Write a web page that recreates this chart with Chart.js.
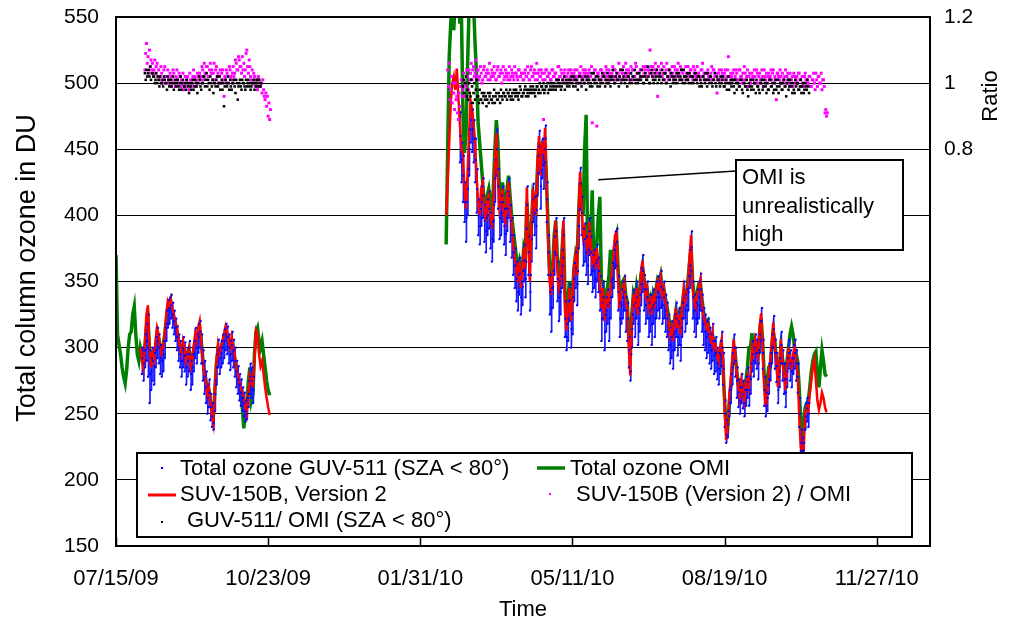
<!DOCTYPE html>
<html>
<head>
<meta charset="utf-8">
<script src="https://cdn.jsdelivr.net/npm/chart.js@4.4.1/dist/chart.umd.min.js"></script>
<style>
  body { margin: 0; background: #fff; }
</style>
</head>
<body>
<canvas id="ozoneChart" width="1011" height="623"></canvas>
<script>
// x values are days since 07/15/09
const xTickDays = [0, 100, 200, 300, 400, 500];
const xTickLabels = ["07/15/09", "10/23/09", "01/31/10", "05/11/10", "08/19/10", "11/27/10"];
const ratioTicks = [80, 100, 120]; // ratio x 100

// OMI total ozone (DU), one value per day
const omiStart1 = 0;
const omiOzone1 = [
  370, 310, 302, 295, 285, 278, 273, 283, 300, 310,
  312, 325, 331, 310, 295, 290, 300, 295, 290, 300,
  315, 320, 300, 292, 295, 292, 300, 312, 308, 300,
  298, 302, 310, 320, 330, 332, 330, 326, 322, 318,
  312, 305, 300, 298, 302, 300, 292, 295, 298, 290,
  292, 298, 305, 305, 312, 315, 305, 292, 282, 276,
  268, 268, 260, 252, 248, 268, 288, 298, 296, 300,
  304, 308, 312, 310, 305, 302, 305, 300, 292, 285,
  278, 272, 265, 255, 239, 250, 258, 275, 285, 260,
  265, 295, 312, 315, 305, 300, 305, 295, 285, 275,
  268, 264
];
const omiStart2 = 217;
const omiOzone2 = [
  378, 450, 520, 545, 560, 540, 565, 550, 570, 545,
  555, 480, 447, 460, 510, 555, 570, 580, 560, 530,
  505, 470, 455, 440, 425, 410, 405, 415, 420, 410,
  405, 420, 450, 472, 455, 420, 415, 425, 410, 405,
  420, 430, 415, 400, 390, 380, 370, 360, 365, 355,
  360, 375, 370, 410, 390, 365, 390, 415, 410, 405,
  435, 455, 440, 450, 445, 455, 425, 390, 360, 350,
  360, 385, 396, 370, 355, 355, 370, 390, 345, 325,
  335, 350, 330, 340, 360, 370, 365, 400, 425, 415,
  400, 450, 476, 370, 390, 385, 419, 365, 370, 380,
  400, 414, 351, 350, 335, 340, 345, 355, 374, 345,
  370, 380, 385, 360, 340, 345, 350, 352, 340, 335,
  310, 300, 325, 340, 335, 345, 335, 340, 355, 362,
  352, 345, 345, 335, 338, 330, 340, 335, 345, 352,
  350, 355, 345, 345, 338, 332, 325, 318, 315, 312,
  320, 328, 320, 325, 318, 330, 340, 338, 342, 352,
  365, 375, 350, 338, 335, 342, 348, 350, 338, 328,
  322, 318, 320, 312, 308, 310, 305, 300, 296, 292,
  298, 300, 285, 260, 240, 238, 255, 270, 285, 300,
  295, 282, 272, 265, 272, 268, 262, 275, 285, 300,
  300, 311, 298, 302, 300, 295, 312, 322, 305, 280,
  268, 275, 285, 285, 300, 312, 305, 290, 280, 285,
  300, 292, 285, 280, 290, 300, 310, 316, 310, 300,
  295, 290, 270, 245, 235, 245, 255, 258, 260, 270,
  282, 290, 295, 297, 280, 270, 285, 298, 290, 280, 278
];

// SUV-150B Version 2 total ozone (DU), one value per day
const suvStart1 = 16;
const suvOzone1 = [
  300, 290, 285, 305, 325, 332, 300, 285, 295, 290,
  305, 315, 310, 300, 295, 300, 310, 325, 335, 332,
  337, 330, 325, 320, 315, 308, 300, 295, 305, 300,
  290, 295, 300, 285, 290, 300, 310, 305, 315, 320,
  305, 290, 280, 275, 265, 270, 258, 250, 243, 270,
  290, 302, 295, 300, 305, 310, 316, 312, 305, 300,
  308, 302, 295, 285, 280, 275, 270, 266, 262, 255,
  250, 265, 280, 278, 270, 290, 313, 310, 295, 286,
  290, 280, 270, 262, 255, 249
];
const suvStart2 = 217;
const suvOzone2 = [
  400, 425, 455, 485, 500, 505, 495, 511, 490, 470,
  450, 447, 420, 405, 430, 460, 487, 480, 470, 455,
  430, 410, 400, 420, 425, 405, 395, 410, 415, 400,
  390, 405, 440, 462, 430, 405, 410, 420, 400, 395,
  415, 425, 405, 395, 380, 370, 360, 350, 365, 345,
  355, 375, 360, 421, 380, 350, 390, 420, 410, 400,
  440, 460, 430, 455, 445, 466, 420, 380, 350, 340,
  355, 380, 396, 360, 345, 350, 370, 396, 330, 313,
  330, 345, 320, 335, 360, 369, 355, 400, 433, 410,
  385, 390, 380, 370, 395, 380, 365, 370, 360, 375,
  365, 350, 330, 345, 320, 335, 340, 330, 345, 360,
  370, 385, 387, 350, 330, 340, 345, 350, 335, 330,
  300, 279, 320, 340, 330, 345, 325, 335, 355, 366,
  350, 340, 345, 330, 335, 325, 340, 330, 345, 350,
  345, 353, 340, 345, 335, 330, 320, 310, 315, 305,
  320, 330, 315, 325, 310, 330, 344, 335, 340, 350,
  370, 385, 345, 335, 330, 340, 345, 351, 335, 325,
  320, 315, 318, 310, 305, 312, 300, 302, 295, 290,
  300, 306, 290, 253, 230, 240, 263, 275, 291, 306,
  295, 280, 270, 262, 275, 268, 260, 272, 278, 270,
  280, 300, 295, 306, 300, 293, 315, 326, 300, 270,
  255, 265, 280, 290, 305, 319, 300, 290, 270, 285,
  306, 290, 280, 268, 285, 300, 290, 285, 295, 300,
  290, 281, 250, 225, 219, 225, 250, 255, 252, 265,
  275, 285, 291, 275, 260, 253, 258, 266, 262, 255, 251
];

// GUV-511 total ozone (DU), three readings per day
const guvStart1 = 17;
const guvOzone1 = [
  280, 292, 300,  275, 288, 298,  285, 298, 310,  290, 305, 318,  278, 300, 325,
  258, 280, 298,  268, 282, 292,  275, 290, 300,  272, 286, 296,  285, 298, 308,
  292, 305, 315,  288, 300, 310,  280, 292, 302,  278, 290, 298,  282, 295, 305,
  292, 305, 315,  305, 318, 328,  315, 328, 336,  318, 330, 338,  322, 332, 340,
  315, 325, 334,  310, 320, 328,  305, 315, 322,  298, 308, 316,  290, 300, 310,
  285, 295, 305,  278, 290, 300,  285, 298, 308,  282, 294, 304,  272, 285, 295,
  278, 290, 300,  282, 295, 305,  268, 280, 290,  272, 285, 295,  282, 295, 305,
  292, 305, 315,  288, 300, 310,  296, 308, 318,  300, 312, 320,  288, 300, 310,
  275, 288, 298,  265, 278, 290,  258, 270, 282,  250, 262, 272,  255, 266, 276,
  245, 255, 265,  240, 248, 258,  238, 243, 252,  252, 265, 275,  272, 285, 295,
  285, 298, 306,  280, 292, 300,  285, 296, 305,  288, 300, 310,  292, 305, 314,
  298, 310, 318,  295, 308, 316,  288, 300, 310,  283, 295, 305,  290, 302, 312,
  285, 298, 306,  278, 290, 300,  270, 282, 290,  265, 276, 286,  260, 272, 280,
  256, 266, 276,  252, 262, 270,  248, 258, 266,  244, 252, 260,  246, 250, 262,
  255, 265, 275,  265, 278, 288,  262, 275, 285,  258, 268, 278
];
const guvStart2 = 226;
const guvOzone2 = [
  440, 460, 478,  425, 442, 455,  410, 430, 445,  395, 410, 425,  380, 398, 410,
  400, 420, 435,  430, 450, 465,  455, 472, 485,  448, 465, 480,  440, 458, 472,
  425, 442, 458,  402, 420, 435,  385, 400, 412,  378, 392, 405,  392, 410, 422,
  398, 415, 428,  380, 396, 408,  372, 388, 398,  385, 400, 412,  390, 405, 418,
  375, 392, 402,  365, 382, 395,  380, 396, 408,  410, 428, 442,  430, 450, 465,
  405, 422, 435,  382, 398, 410,  385, 402, 415,  395, 410, 422,  378, 392, 405,
  370, 386, 398,  388, 405, 418,  398, 415, 428,  380, 396, 408,  368, 385, 398,
  355, 372, 385,  345, 362, 375,  335, 352, 365,  328, 342, 355,  340, 356, 368,
  325, 338, 350,  332, 346, 358,  350, 366, 378,  338, 352, 365,  390, 408, 422,
  355, 372, 384,  328, 342, 355,  365, 382, 395,  395, 412, 424,  385, 402, 414,
  375, 392, 404,  415, 432, 445,  432, 452, 464,  405, 422, 434,  428, 446, 458,
  420, 438, 450,  440, 458, 468,  395, 412, 425,  355, 372, 385,  325, 342, 355,
  312, 330, 345,  330, 346, 358,  355, 372, 384,  370, 388, 398,  335, 352, 365,
  320, 338, 350,  325, 342, 354,  345, 362, 374,  368, 385, 398,  308, 322, 335,
  298, 308, 318,  305, 322, 335,  320, 336, 348,  300, 314, 325,  310, 326, 338,
  335, 352, 364,  345, 360, 372,  332, 348, 358,  375, 392, 404,  405, 424, 436,
  385, 402, 414,  362, 378, 390,  365, 382, 394,  355, 372, 384,  348, 362, 374,
  370, 388, 398,  355, 372, 384,  342, 358, 370,  345, 362, 374,  338, 352, 364,
  350, 366, 378,  342, 358, 368,  328, 342, 354,  305, 322, 334,  322, 338, 350,
  298, 312, 325,  312, 328, 338,  318, 332, 344,  305, 322, 334,  322, 338, 350,
  338, 352, 364,  345, 362, 374,  360, 378, 388,  362, 380, 390,  328, 342, 354,
  308, 322, 334,  318, 332, 344,  322, 338, 350,  328, 342, 354,  312, 328, 338,
  305, 322, 334,  285, 298, 308,  275, 282, 295,  300, 314, 325,  318, 332, 344,
  308, 322, 334,  322, 338, 350,  302, 318, 330,  312, 328, 340,  332, 348, 360,
  342, 358, 370,  328, 344, 355,  318, 332, 344,  322, 338, 350,  308, 322, 334,
  312, 328, 340,  302, 318, 330,  318, 332, 344,  308, 322, 334,  322, 338, 350,
  328, 342, 354,  322, 338, 350,  330, 346, 358,  318, 332, 344,  322, 338, 350,
  312, 328, 340,  308, 322, 334,  298, 312, 325,  288, 302, 315,  292, 308, 320,
  284, 298, 310,  298, 312, 325,  308, 322, 334,  294, 308, 320,  302, 318, 330,
  290, 302, 315,  308, 322, 334,  322, 338, 350,  312, 328, 340,  318, 332, 344,
  328, 342, 354,  345, 362, 374,  358, 376, 388,  322, 338, 350,  312, 328, 340,
  308, 322, 334,  318, 332, 344,  322, 338, 350,  328, 344, 356,  312, 328, 340,
  302, 318, 330,  298, 312, 325,  292, 308, 320,  296, 310, 322,  288, 302, 315,
  284, 298, 310,  290, 305, 318,  280, 294, 305,  282, 296, 308,  276, 288, 300,
  272, 284, 296,  280, 294, 305,  286, 300, 312,  272, 284, 296,  240, 250, 260,
  228, 234, 245,  232, 242, 252,  248, 258, 268,  258, 270, 280,  272, 285, 296,
  288, 300, 310,  278, 290, 300,  262, 275, 285,  255, 266, 276,  250, 260, 270,
  258, 270, 280,  254, 265, 275,  248, 258, 268,  256, 268, 278,  262, 274, 285,
  256, 268, 278,  265, 276, 288,  282, 295, 305,  278, 290, 300,  288, 300, 310,
  284, 296, 306,  276, 288, 298,  296, 310, 320,  305, 320, 330,  284, 296, 306,
  256, 268, 278,  248, 256, 266,  252, 262, 272,  265, 276, 288,  275, 286, 296,
  288, 300, 310,  300, 314, 324,  284, 296, 306,  274, 286, 296,  258, 268, 278,
  270, 282, 292,  288, 302, 312,  275, 288, 298,  265, 276, 288,  255, 266, 276,
  270, 282, 292,  284, 296, 306,  275, 288, 298,  270, 282, 292,  280, 292, 302,
  284, 296, 306,  275, 288, 298,  266, 278, 288,  240, 250, 262,  222, 228, 238,
  218, 222, 232,  222, 228, 238,  238, 248, 258,  244, 254, 262,  240, 250, 258
];

// GUV-511 / OMI ratio (x 100), two values per day
const guvOmiStart1 = 19;
const guvOmiRatio1 = [
  103, 101, 104, 102, 103, 104, 102, 105, 101, 103, 103, 102, 102, 100, 101, 103, 100, 102, 101, 99,
  102, 100, 100, 101, 99, 102, 101, 100, 100, 98, 102, 101, 99, 100, 101, 99, 100, 102, 98, 100,
  101, 99, 100, 101, 99, 98, 100, 102, 98, 100, 101, 99, 99, 100, 98, 101, 100, 99, 97, 100,
  99, 98, 100, 101, 98, 99, 101, 100, 99, 97, 100, 102, 101, 99, 98, 100, 100, 102, 102, 99,
  101, 103, 99, 101, 100, 98, 102, 100, 99, 101, 97, 100, 100, 99, 101, 102, 99, 100, 102, 98,
  100, 101, 98, 100, 93, 99, 101, 100, 99, 102, 100, 98, 101, 99, 98, 100, 100, 101, 99, 97,
  101, 100, 95, 99, 100, 101, 99, 98, 101, 100, 100, 99, 98, 101, 99, 100, 101, 99, 100, 98,
  99, 100, 100, 101, 98, 100, 99, 101, 100, 99, 101, 100, 99, 100
];
const guvOmiStart2 = 228;
const guvOmiRatio2 = [
  99, 101, 97, 100, 102, 96, 98, 95, 100, 97, 96, 101, 99, 94, 97, 100, 95, 98, 101, 96,
  96, 94, 98, 95, 95, 97, 94, 96, 97, 95, 96, 93, 95, 97, 94, 96, 97, 95, 95, 94,
  96, 98, 94, 96, 97, 95, 95, 97, 96, 94, 98, 96, 95, 97, 97, 96, 96, 98, 95, 97,
  97, 96, 98, 95, 96, 97, 95, 98, 97, 96, 98, 97, 96, 95, 97, 99, 98, 96, 96, 97,
  97, 98, 99, 96, 98, 97, 96, 98, 97, 99, 98, 97, 99, 98, 97, 96, 98, 99, 99, 97,
  98, 100, 97, 99, 99, 98, 100, 97, 98, 99, 99, 100, 97, 98, 100, 99, 98, 100, 99, 98,
  100, 99, 98, 101, 99, 100, 101, 99, 100, 98, 99, 101, 100, 102, 98, 100, 101, 99, 100, 101,
  99, 100, 101, 102, 100, 99, 102, 101, 99, 100, 101, 98, 100, 102, 102, 100, 99, 101, 101, 100,
  100, 102, 98, 101, 102, 100, 101, 99, 100, 103, 99, 101, 103, 100, 101, 102, 100, 99, 102, 101,
  99, 100, 101, 103, 100, 102, 102, 99, 101, 100, 103, 101, 100, 102, 99, 101, 102, 104, 101, 100,
  100, 102, 103, 101, 101, 99, 102, 104, 100, 101, 104, 102, 101, 100, 103, 101, 99, 102, 102, 100,
  101, 103, 100, 102, 102, 101, 104, 100, 101, 103, 100, 101, 103, 102, 101, 104, 102, 100, 100, 102,
  103, 101, 101, 105, 102, 100, 100, 103, 104, 102, 101, 100, 103, 101, 102, 104, 100, 102, 101, 103,
  102, 100, 104, 101, 101, 103, 103, 100, 100, 102, 102, 104, 101, 99, 103, 102, 100, 101, 102, 100,
  101, 103, 100, 102, 103, 101, 102, 104, 101, 100, 104, 102, 100, 101, 102, 103, 101, 100, 103, 102,
  100, 102, 102, 100, 101, 103, 103, 101, 100, 102, 102, 99, 101, 100, 99, 102, 102, 101, 100, 103,
  101, 99, 103, 101, 100, 102, 102, 100, 99, 101, 101, 103, 100, 99, 102, 101, 101, 100, 99, 102,
  100, 101, 102, 99, 99, 100, 101, 98, 100, 102, 98, 100, 101, 99, 100, 101, 99, 97, 101, 100,
  98, 100, 100, 99, 99, 101, 101, 98, 97, 100, 100, 99, 99, 101, 98, 96, 100, 99, 101, 98,
  99, 101, 98, 100, 100, 97, 101, 99, 99, 98, 97, 100, 100, 101, 98, 99, 101, 100, 99, 97,
  100, 98, 98, 101, 101, 99, 99, 100, 97, 98, 100, 101, 98, 99, 101, 97, 99, 100, 100, 98,
  98, 100, 101, 99, 99, 96, 100, 101, 98, 99, 101, 100, 99, 97, 100, 98, 97, 101, 99, 100,
  100, 98, 98, 99, 101, 97, 99, 100, 97, 98, 100, 99, 98, 101, 99, 97
];

// SUV-150B (Version 2) / OMI ratio (x 100), two values per day
const suvOmiStart1 = 19;
const suvOmiRatio1 = [
  104, 109, 112, 106, 108, 103, 110, 105, 107, 104, 106, 103, 104, 107, 103, 105, 106, 102, 104, 101,
  102, 105, 103, 100, 101, 104, 105, 102, 102, 100, 104, 101, 100, 103, 102, 99, 101, 104, 103, 100,
  99, 102, 104, 101, 100, 103, 102, 99, 101, 100, 103, 98, 100, 102, 99, 101, 102, 100, 98, 103,
  101, 99, 100, 102, 104, 101, 102, 99, 101, 103, 100, 102, 103, 101, 102, 105, 104, 101, 106, 103,
  103, 105, 105, 102, 102, 104, 106, 103, 104, 101, 103, 106, 101, 104, 105, 102, 103, 100, 102, 104,
  100, 103, 104, 101, 96, 102, 101, 104, 103, 100, 102, 105, 104, 102, 101, 103, 105, 102, 103, 107,
  106, 104, 104, 108, 107, 105, 105, 103, 108, 104, 106, 102, 104, 109, 110, 105, 103, 107, 105, 102,
  101, 104, 100, 103, 102, 99, 100, 101, 98, 102, 101, 99, 99, 100, 97, 101, 98, 96, 95, 97,
  93, 96, 90, 94, 89, 92
];
const suvOmiStart2 = 218;
const suvOmiRatio2 = [
  104, 99, 106, 95, 98, 102, 94, 100, 97, 92, 100, 95, 96, 91, 89, 97, 93, 99, 101, 96,
  98, 103, 96, 100, 99, 104, 102, 98, 104, 101, 103, 106, 101, 104, 105, 102, 103, 107, 102, 104,
  104, 101, 102, 105, 103, 100, 101, 104, 105, 102, 102, 103, 104, 101, 103, 106, 101, 102, 104, 103,
  102, 105, 103, 101, 101, 104, 105, 102, 102, 103, 104, 100, 103, 105, 101, 102, 104, 103, 102, 101,
  103, 105, 101, 102, 104, 103, 102, 101, 105, 103, 103, 102, 101, 104, 104, 102, 102, 103, 103, 101,
  101, 103, 104, 102, 102, 105, 103, 101, 101, 104, 105, 102, 102, 103, 104, 101, 103, 106, 101, 103,
  104, 102, 102, 104, 103, 101, 89, 103, 101, 104, 104, 102, 102, 103, 103, 101, 101, 104, 104, 102,
  102, 103, 103, 101, 101, 105, 105, 102, 102, 104, 103, 101, 101, 103, 104, 102, 102, 100, 103, 104,
  101, 102, 104, 103, 102, 101, 103, 104, 101, 102, 104, 100, 102, 103, 103, 105, 101, 102, 104, 103,
  102, 104, 103, 101, 101, 103, 104, 102, 102, 105, 88, 103, 101, 104, 104, 102, 87, 103, 103, 101,
  101, 104, 104, 102, 102, 103, 103, 101, 105, 104, 102, 100, 104, 103, 101, 102, 103, 105, 102, 104,
  104, 102, 101, 103, 103, 106, 102, 101, 104, 103, 101, 105, 103, 102, 106, 104, 102, 103, 104, 101,
  103, 105, 101, 104, 104, 102, 102, 106, 105, 103, 103, 101, 101, 104, 104, 102, 102, 105, 103, 104,
  105, 102, 102, 104, 104, 103, 110, 105, 103, 102, 105, 104, 102, 106, 104, 103, 96, 105, 103, 102,
  104, 106, 102, 103, 105, 101, 103, 104, 106, 102, 101, 104, 104, 103, 102, 105, 103, 101, 105, 104,
  102, 103, 104, 106, 103, 101, 105, 104, 101, 103, 104, 102, 102, 105, 103, 101, 105, 103, 102, 104,
  104, 102, 101, 105, 103, 104, 102, 101, 105, 103, 103, 102, 101, 104, 104, 106, 102, 103, 103, 101,
  101, 103, 104, 102, 102, 101, 103, 105, 101, 104, 104, 102, 102, 103, 97, 101, 103, 104, 101, 102,
  104, 103, 102, 101, 103, 104, 101, 102, 104, 108, 102, 100, 103, 102, 101, 103, 104, 101, 102, 104,
  103, 101, 101, 104, 104, 102, 102, 100, 103, 101, 105, 103, 101, 102, 104, 99, 102, 103, 100, 101,
  103, 102, 101, 104, 102, 100, 104, 103, 100, 102, 103, 101, 101, 104, 102, 99, 104, 102, 101, 103,
  100, 102, 103, 101, 102, 104, 101, 103, 104, 100, 102, 101, 95, 103, 103, 102, 101, 104, 102, 100,
  103, 101, 101, 102, 104, 100, 102, 103, 100, 101, 103, 99, 101, 102, 99, 103, 102, 100, 101, 102,
  100, 103, 103, 101, 101, 99, 102, 100, 99, 102, 103, 101, 101, 100, 100, 102, 102, 99, 99, 101,
  101, 103, 100, 98, 103, 101, 99, 102, 102, 100, 100, 103, 98, 101, 101, 99, 91, 92, 90, 91
];

// spread values from a start day, perDay readings per day
function toPoints(start, values, perDay) {
  return values.map((v, i) => ({ x: start + i / perDay, y: v }));
}

// daily spread of the GUV readings as a thin floating bar
function toDailyRange(start, values, perDay) {
  const out = [];
  for (let d = 0; d * perDay < values.length; d++) {
    const day = values.slice(d * perDay, (d + 1) * perDay);
    out.push({ x: start + d + 0.33, y: [Math.min(...day), Math.max(...day)] });
  }
  return out;
}

const FONT = '"Liberation Sans", Arial, sans-serif';
Chart.defaults.font.family = FONT;
Chart.defaults.color = "#000";

function lineSet(points, color, width) {
  return {
    type: "line",
    data: points,
    borderColor: color,
    borderWidth: width,
    pointRadius: 0,
    tension: 0,
    yAxisID: "y",
  };
}

function dotSet(points, color, radius, axis) {
  return {
    type: "scatter",
    data: points,
    backgroundColor: color,
    borderWidth: 0,
    pointStyle: "rect",
    pointRadius: radius,
    yAxisID: axis,
  };
}

function rangeSet(bars) {
  return {
    type: "bar",
    data: bars,
    backgroundColor: "#1a1aff",
    borderWidth: 0,
    barThickness: 1,
    grouped: false,
    yAxisID: "y",
  };
}

// vertical axes: fixed width, no extra room for half labels
function fixWidth(w) {
  return (s) => {
    s.width = w;
    s.paddingTop = 0;
    s.paddingBottom = 0;
  };
}

// frame, inner x tick marks, legend box, note and axis titles
const decorations = {
  id: "decorations",
  afterDraw(chart) {
    const { ctx, chartArea: a, scales } = chart;
    const x = scales.x, y = scales.y;
    ctx.save();

    // legend
    ctx.fillStyle = "#fff";
    ctx.fillRect(137, 453, 775, 84);
    ctx.strokeStyle = "#000";
    ctx.lineWidth = 2;
    ctx.strokeRect(137, 453, 775, 84);

    ctx.font = "22px " + FONT;
    ctx.textBaseline = "middle";
    ctx.fillStyle = "#000";
    ctx.fillText("Total ozone GUV-511 (SZA < 80°)", 180, 469);
    ctx.fillText("SUV-150B, Version 2", 180, 495);
    ctx.fillText("GUV-511/ OMI (SZA < 80°)", 187, 521);
    ctx.fillText("Total ozone OMI", 570, 469);
    ctx.fillText("SUV-150B (Version 2) / OMI", 576, 495);

    ctx.fillStyle = "#0000ff";
    ctx.fillRect(161, 467, 2, 2);
    ctx.fillStyle = "#000";
    ctx.fillRect(161, 521, 2, 2);
    ctx.fillStyle = "#ff00ff";
    ctx.fillRect(549, 493, 2, 2);

    ctx.lineWidth = 3;
    ctx.strokeStyle = "#ff0000";
    ctx.beginPath();
    ctx.moveTo(148, 495);
    ctx.lineTo(176, 495);
    ctx.stroke();
    ctx.lineWidth = 3.5;
    ctx.strokeStyle = "#008000";
    ctx.beginPath();
    ctx.moveTo(537, 468);
    ctx.lineTo(565, 468);
    ctx.stroke();

    // note pointing at the OMI spike
    ctx.strokeStyle = "#000";
    ctx.lineWidth = 1.5;
    ctx.beginPath();
    ctx.moveTo(x.getPixelForValue(317), y.getPixelForValue(427));
    ctx.lineTo(736, 171);
    ctx.stroke();
    ctx.fillStyle = "#fff";
    ctx.fillRect(736, 160, 167, 90);
    ctx.lineWidth = 2;
    ctx.strokeRect(736, 160, 167, 90);
    ctx.fillStyle = "#000";
    ctx.fillText("OMI is", 742, 178);
    ctx.fillText("unrealistically", 742, 207);
    ctx.fillText("high", 742, 235);

    // plot frame and inward x ticks
    ctx.lineWidth = 2;
    ctx.strokeRect(a.left, a.top, a.right - a.left, a.bottom - a.top);
    ctx.lineWidth = 1.5;
    ctx.beginPath();
    xTickDays.forEach((d) => {
      const px = Math.round(x.getPixelForValue(d)) + 0.5;
      ctx.moveTo(px, a.bottom);
      ctx.lineTo(px, a.bottom - 9);
    });
    ctx.stroke();

    // axis titles
    ctx.textAlign = "center";
    ctx.save();
    ctx.translate(28, 268);
    ctx.rotate(-Math.PI / 2);
    ctx.font = "27px " + FONT;
    ctx.fillText("Total column ozone in DU", 0, 0);
    ctx.restore();
    ctx.translate(991, 96);
    ctx.rotate(-Math.PI / 2);
    ctx.font = "22px " + FONT;
    ctx.fillText("Ratio", 0, 0);
    ctx.restore();
  },
};

new Chart("ozoneChart", {
  type: "scatter",
  data: {
    datasets: [
      dotSet(toPoints(guvOmiStart1, guvOmiRatio1, 2), "#000", 1.8, "ratio"),
      dotSet(toPoints(guvOmiStart2, guvOmiRatio2, 2), "#000", 1.8, "ratio"),
      dotSet(toPoints(suvOmiStart1, suvOmiRatio1, 2), "#ff00ff", 2.1, "ratio"),
      dotSet(toPoints(suvOmiStart2, suvOmiRatio2, 2), "#ff00ff", 2.1, "ratio"),
      dotSet(toPoints(guvStart1, guvOzone1, 3), "#0000ff", 1.4, "y"),
      dotSet(toPoints(guvStart2, guvOzone2, 3), "#0000ff", 1.4, "y"),
      lineSet(toPoints(suvStart1, suvOzone1, 1), "#ff0000", 2.5),
      lineSet(toPoints(suvStart2, suvOzone2, 1), "#ff0000", 2.5),
      rangeSet(toDailyRange(guvStart1, guvOzone1, 3)),
      rangeSet(toDailyRange(guvStart2, guvOzone2, 3)),
      lineSet(toPoints(omiStart1, omiOzone1, 1), "#008000", 3.5),
      lineSet(toPoints(omiStart2, omiOzone2, 1), "#008000", 3.5),
    ],
  },
  options: {
    responsive: false,
    animation: false,
    layout: { padding: { top: 17 } },
    plugins: {
      legend: { display: false },
      tooltip: { enabled: false },
    },
    scales: {
      x: {
        type: "linear",
        min: 0,
        max: 535,
        offset: false,
        afterFit: (s) => { s.height = 77; },
        afterBuildTicks: (s) => { s.ticks = xTickDays.map((v) => ({ value: v })); },
        grid: { display: false, drawTicks: false },
        border: { display: false },
        ticks: {
          autoSkip: false,
          maxRotation: 0,
          padding: 20,
          font: { size: 22 },
          callback: (v) => xTickLabels[xTickDays.indexOf(v)],
        },
        title: {
          display: true,
          text: "Time",
          font: { size: 22 },
          padding: { top: 0, bottom: 0 },
        },
      },
      y: {
        position: "left",
        min: 150,
        max: 550,
        afterFit: fixWidth(116),
        grid: { color: "#000", lineWidth: 1, drawTicks: false },
        border: { display: false },
        ticks: { stepSize: 50, padding: 17, font: { size: 21 } },
      },
      ratio: {
        position: "right",
        min: -40,
        max: 120,
        afterFit: fixWidth(81),
        afterBuildTicks: (s) => { s.ticks = ratioTicks.map((v) => ({ value: v })); },
        grid: { display: false, drawTicks: false },
        border: { display: false },
        ticks: {
          padding: 14,
          font: { size: 21 },
          callback: (v) => String(v / 100),
        },
      },
    },
  },
  plugins: [decorations],
});
</script>
</body>
</html>
